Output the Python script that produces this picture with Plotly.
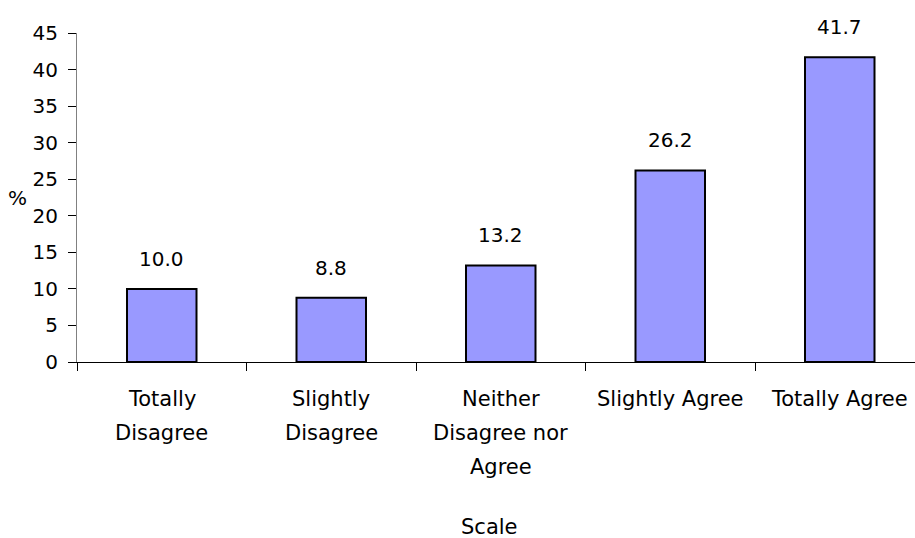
import plotly.graph_objects as go

# Survey response distribution (%)
categories = ["Totally Disagree", "Slightly Disagree", "Neither Disagree nor Agree",
              "Slightly Agree", "Totally Agree"]
tick_lines = [["Totally", "Disagree"],
              ["Slightly", "Disagree"],
              ["Neither", "Disagree nor", "Agree"],
              ["Slightly Agree"],
              ["Totally Agree"]]
percent = [10.0, 8.8, 13.2, 26.2, 41.7]
y_ticks = [0, 5, 10, 15, 20, 25, 30, 35, 40, 45]

W, H = 915, 538
L, R, T, B = 77, 0, 33, 176
plot_w = W - L - R
plot_h = H - T - B
cat_px = 169.5
FONT = dict(family="DejaVu Sans", size=21, color="black")
TICK_FONT = dict(family="DejaVu Sans", size=20, color="black")

fig = go.Figure(go.Bar(
    x=categories, y=percent,
    marker=dict(color="#9999FF", line=dict(color="black", width=2)),
    width=0.41,
))

annotations = []
# value labels above each bar
for c, v in zip(categories, percent):
    annotations.append(dict(x=c, y=v, xref="x", yref="y", text=f"{v:.1f}",
                            showarrow=False, yanchor="bottom", yshift=16,
                            font=TICK_FONT))
# category labels, one line each
line_gap = 34
first_line_px = 399
for c, lines in zip(categories, tick_lines):
    for i, s in enumerate(lines):
        ypx = first_line_px + i * line_gap
        annotations.append(dict(x=c, xref="x", yref="paper",
                                y=(T + plot_h - ypx) / plot_h,
                                text=s, showarrow=False, yanchor="middle",
                                font=FONT))
# axis titles
annotations.append(dict(xref="paper", yref="y", x=(18 - L) / plot_w, y=22.5,
                        text="%", showarrow=False, xanchor="center",
                        yanchor="middle", font=TICK_FONT))
annotations.append(dict(xref="paper", yref="paper", x=(489 - L) / plot_w,
                        y=(T + plot_h - 527) / plot_h, text="Scale",
                        showarrow=False, xanchor="center", yanchor="middle",
                        font=FONT))

fig.update_layout(
    width=W, height=H,
    margin=dict(l=L, r=R, t=T, b=B, pad=0),
    paper_bgcolor="white", plot_bgcolor="white",
    showlegend=False,
    font=FONT,
    annotations=annotations,
    xaxis=dict(
        type="category",
        range=[-0.5, -0.5 + plot_w / cat_px],
        showticklabels=False,
        showline=True, linecolor="black", linewidth=1,
        ticks="outside", tickson="boundaries", ticklen=8,
        tickcolor="black", tickwidth=1,
        showgrid=False, zeroline=False,
    ),
    yaxis=dict(
        range=[0, 45],
        tickvals=y_ticks,
        showline=True, linecolor="#808080", linewidth=1,
        ticks="outside", ticklen=8, tickcolor="black", tickwidth=1,
        ticklabelstandoff=6,
        showgrid=False, zeroline=False,
        tickfont=TICK_FONT,
    ),
)

fig.write_html("out.html")
